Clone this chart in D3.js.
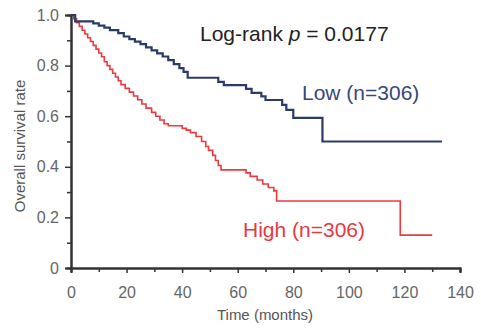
<!DOCTYPE html>
<html>
<head>
<meta charset="utf-8">
<script src="https://cdn.jsdelivr.net/npm/d3@7"></script>
<style>
  body { margin: 0; background: #fff; }
  text { font-family: "Liberation Sans", Arial, sans-serif; }
</style>
</head>
<body>
<div id="chart"></div>
<script>
// Kaplan-Meier step values
var lowTimes = [0, 1.5, 8, 10, 12, 14, 17, 19, 21, 23, 25, 27, 29, 31, 33, 35, 37, 39, 40.5, 42, 53, 55, 63, 65, 68.5, 70, 76, 77.5, 80, 90.5, 133.5];
var lowSurv  = [1.0, 0.975, 0.967, 0.958, 0.95, 0.94, 0.928, 0.915, 0.905, 0.895, 0.885, 0.872, 0.86, 0.848, 0.836, 0.822, 0.806, 0.79, 0.775, 0.752, 0.736, 0.723, 0.708, 0.692, 0.678, 0.664, 0.645, 0.625, 0.593, 0.5, 0.5];

var highTimes = [0, 1, 2, 3, 4, 5, 6, 7, 8, 9, 10, 11, 12, 13, 14, 15, 16, 17, 18, 19.5, 21, 22.5, 24, 25.5, 27, 29, 30.5, 32, 33.5, 35, 40, 41.5, 43, 45, 47, 48.5, 49.5, 51, 52, 53, 54, 63, 64.5, 67, 69, 71, 73, 74, 118.5, 130];
var highSurv  = [1.0, 0.985, 0.97, 0.955, 0.94, 0.925, 0.91, 0.895, 0.88, 0.865, 0.85, 0.835, 0.815, 0.8, 0.785, 0.77, 0.755, 0.74, 0.725, 0.71, 0.695, 0.68, 0.665, 0.648, 0.632, 0.615, 0.6, 0.585, 0.57, 0.562, 0.552, 0.545, 0.535, 0.52, 0.5, 0.48, 0.465, 0.445, 0.425, 0.405, 0.388, 0.376, 0.362, 0.348, 0.332, 0.318, 0.305, 0.265, 0.13, 0.13];

var xTicks = [0, 20, 40, 60, 80, 100, 120, 140];
var yTicks = [0, 0.2, 0.4, 0.6, 0.8, 1.0];
var yTickLabels = ["0", "0.2", "0.4", "0.6", "0.8", "1.0"];

var width = 481, height = 328;
var margin = {top: 15, right: 21, bottom: 60, left: 71};

var svg = d3.select('#chart').append('svg')
            .attr('width', width).attr('height', height);

var x = d3.scaleLinear().domain([0, 140]).range([margin.left, width - margin.right]);
var y = d3.scaleLinear().domain([0, 1]).range([height - margin.bottom, margin.top]);

var axisColor = '#333';
var labelColor = '#666';

// minor ticks
var xMinor = d3.axisBottom(x).tickValues(d3.range(10, 140, 20)).tickSize(4).tickFormat('');
var yMinor = d3.axisLeft(y).tickValues(d3.range(0.1, 1, 0.2)).tickSize(4).tickFormat('');

var gxm = svg.append('g').attr('transform', 'translate(0,' + y(0) + ')').call(xMinor);
var gym = svg.append('g').attr('transform', 'translate(' + x(0) + ',0)').call(yMinor);

var gx = svg.append('g').attr('transform', 'translate(0,' + y(0) + ')')
  .call(d3.axisBottom(x).tickValues(xTicks).tickSize(5).tickPadding(14));
var gy = svg.append('g').attr('transform', 'translate(' + x(0) + ',0)')
  .call(d3.axisLeft(y).tickValues(yTicks).tickSize(6).tickPadding(6)
        .tickFormat(function(d, i) { return yTickLabels[i]; }));

[gx, gy, gxm, gym].forEach(function(g) {
  g.selectAll('.domain').attr('stroke', axisColor).attr('stroke-width', 2);
  g.selectAll('.tick line').attr('stroke', axisColor).attr('stroke-width', 1.5);
  g.selectAll('.tick text').attr('fill', labelColor)
    .style('font-family', '"Liberation Sans", Arial, sans-serif').style('font-size', '16px');
});

// curves
var line = d3.line()
  .x(function(d) { return x(d[0]); })
  .y(function(d) { return y(d[1]); })
  .curve(d3.curveStepAfter);

var lowData = d3.zip(lowTimes, lowSurv);
var highData = d3.zip(highTimes, highSurv);

svg.append('path').datum(highData)
  .attr('d', line).attr('fill', 'none')
  .attr('stroke', '#ec3a3f').attr('stroke-width', 1.6);

svg.append('path').datum(lowData)
  .attr('d', line).attr('fill', 'none')
  .attr('stroke', '#2c3a68').attr('stroke-width', 2.2);

// annotation texts
var lr = svg.append('text').attr('x', 200).attr('y', 41)
  .attr('fill', '#222').style('font-size', '21px');
lr.append('tspan').text('Log-rank ');
lr.append('tspan').style('font-style', 'italic').text('p');
lr.append('tspan').text(' = 0.0177');

svg.append('text').attr('x', 302).attr('y', 100)
  .attr('fill', '#3a4778').style('font-size', '21px').text('Low (n=306)');

svg.append('text').attr('x', 243).attr('y', 237)
  .attr('fill', '#e8393d').style('font-size', '21px').text('High (n=306)');

// axis titles
svg.append('text').attr('x', 265).attr('y', 320)
  .attr('text-anchor', 'middle').attr('fill', '#555')
  .style('font-size', '15px').text('Time (months)');

svg.append('text')
  .attr('transform', 'translate(25,146) rotate(-90)')
  .attr('text-anchor', 'middle').attr('fill', '#555')
  .style('font-size', '15px').text('Overall survival rate');
</script>
</body>
</html>
